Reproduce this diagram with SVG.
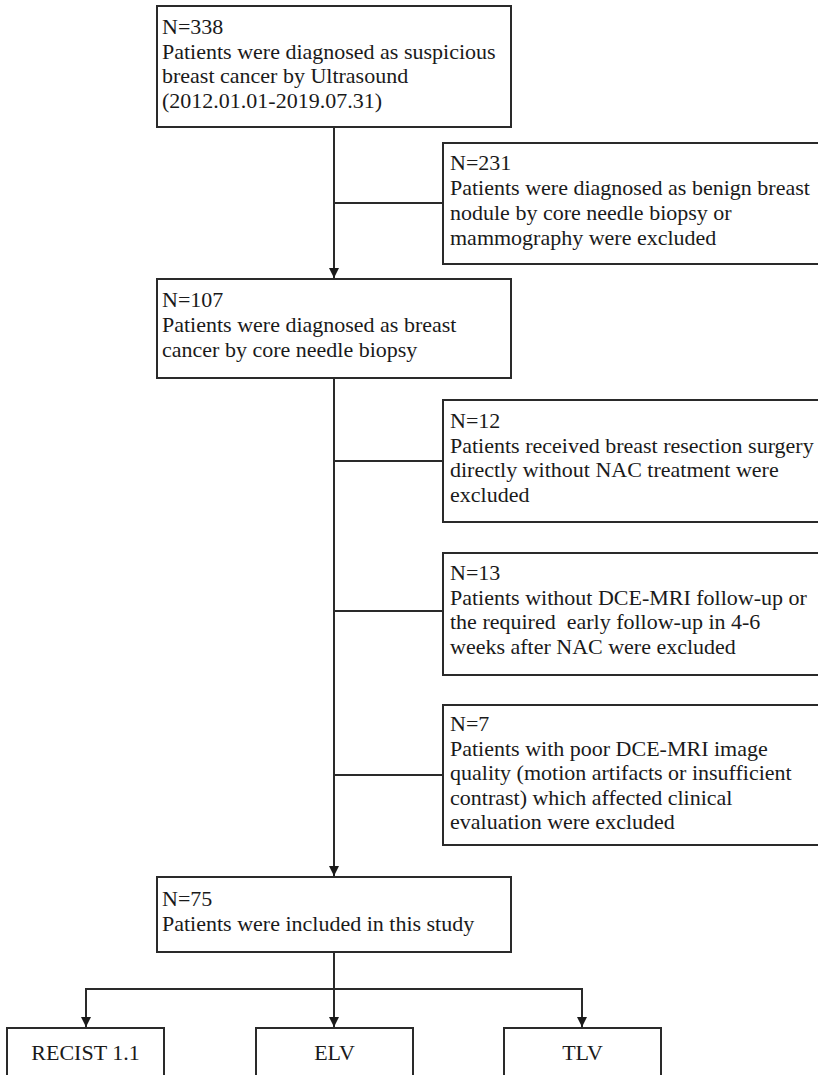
<svg xmlns="http://www.w3.org/2000/svg" width="818" height="1075" viewBox="0 0 818 1075">
<style>
.box{fill:#fff;stroke:#2a2a2a;stroke-width:2}
.t{font-family:"Liberation Serif","Times New Roman",serif;font-size:22px;fill:#1a1a1a}
.c{text-anchor:middle}
.ln{fill:none;stroke:#2a2a2a;stroke-width:2}
</style>
<defs>
<marker id="ah" viewBox="0 0 10 10" refX="10" refY="5" markerWidth="10" markerHeight="10" markerUnits="userSpaceOnUse" orient="auto">
<path d="M0,0 L10,5 L0,10 Z" fill="#1a1a1a"/>
</marker>
</defs>
<rect width="818" height="1075" fill="#fff"/>
<g id="connectors">
<path class="ln" d="M334,127 V278" marker-end="url(#ah)"/>
<path class="ln" d="M334,203 H443"/>
<path class="ln" d="M334,378 V876" marker-end="url(#ah)"/>
<path class="ln" d="M334,461 H443"/>
<path class="ln" d="M334,611 H443"/>
<path class="ln" d="M334,775 H443"/>
<path class="ln" d="M334,952 V989"/>
<path class="ln" d="M86,1027 V989 H582 V1027" marker-end="url(#ah)"/>
<path class="ln" d="M86,990 V1027" marker-end="url(#ah)"/>
<path class="ln" d="M334,989 V1027" marker-end="url(#ah)"/>
</g>
<g id="n338">
<rect class="box" x="157" y="6" width="354" height="121"/>
<text class="t" x="162" y="34">N=338</text>
<text class="t" x="162" y="58.5">Patients were diagnosed as suspicious</text>
<text class="t" x="162" y="83">breast cancer by Ultrasound</text>
<text class="t" x="162" y="107.5">(2012.01.01-2019.07.31)</text>
</g>
<g id="n231">
<rect class="box" x="443" y="143" width="390" height="121"/>
<text class="t" x="450" y="170">N=231</text>
<text class="t" x="450" y="195">Patients were diagnosed as benign breast</text>
<text class="t" x="450" y="220">nodule by core needle biopsy or</text>
<text class="t" x="450" y="245">mammography were excluded</text>
</g>
<g id="n107">
<rect class="box" x="157" y="279" width="354" height="99"/>
<text class="t" x="162" y="307">N=107</text>
<text class="t" x="162" y="332">Patients were diagnosed as breast</text>
<text class="t" x="162" y="357">cancer by core needle biopsy</text>
</g>
<g id="n12">
<rect class="box" x="443" y="400" width="390" height="122"/>
<text class="t" x="450" y="428">N=12</text>
<text class="t" x="450" y="452.5">Patients received breast resection surgery</text>
<text class="t" x="450" y="477">directly without NAC treatment were</text>
<text class="t" x="450" y="501.5">excluded</text>
</g>
<g id="n13">
<rect class="box" x="443" y="553" width="390" height="122"/>
<text class="t" x="450" y="580">N=13</text>
<text class="t" x="450" y="604.5">Patients without DCE-MRI follow-up or</text>
<text class="t" x="450" y="629">the required&#160; early follow-up in 4-6</text>
<text class="t" x="450" y="653.5">weeks after NAC were excluded</text>
</g>
<g id="n7">
<rect class="box" x="443" y="705" width="390" height="140"/>
<text class="t" x="450" y="731">N=7</text>
<text class="t" x="450" y="755.5">Patients with poor DCE-MRI image</text>
<text class="t" x="450" y="780">quality (motion artifacts or insufficient</text>
<text class="t" x="450" y="804.5">contrast) which affected clinical</text>
<text class="t" x="450" y="829">evaluation were excluded</text>
</g>
<g id="n75">
<rect class="box" x="157" y="877" width="354" height="75"/>
<text class="t" x="162" y="906">N=75</text>
<text class="t" x="162" y="931">Patients were included in this study</text>
</g>
<g id="recist">
<rect class="box" x="7" y="1028" width="157" height="60"/>
<text class="t c" x="85.5" y="1060">RECIST 1.1</text>
</g>
<g id="elv">
<rect class="box" x="256" y="1028" width="157" height="60"/>
<text class="t c" x="334.5" y="1060">ELV</text>
</g>
<g id="tlv">
<rect class="box" x="504" y="1028" width="157" height="60"/>
<text class="t c" x="582.5" y="1060">TLV</text>
</g>
</svg>
